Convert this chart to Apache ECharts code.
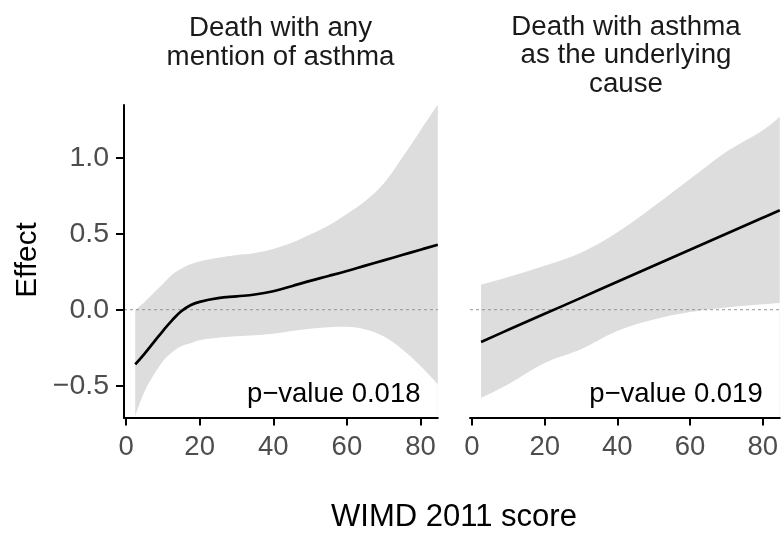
<!DOCTYPE html>
<html>
<head>
<meta charset="utf-8">
<script src="https://cdn.jsdelivr.net/npm/echarts@6/dist/echarts.min.js"></script>
<style>html,body{margin:0;padding:0;background:#fff}#c{width:781px;height:533px}</style>
</head>
<body>
<div id="c"></div>
<script>
// ---- data ----
const panelTitles = ['Death with any\nmention of asthma', 'Death with asthma\nas the underlying\ncause'];
const pValueLabels = ['p\u2212value 0.018', 'p\u2212value 0.019'];
const pValuePos = [80, -0.56];

const xTicks = [0, 20, 40, 60, 80];
const yTicks = [-0.5, 0, 0.5, 1.0];
const yTickLabels = ['\u22120.5', '0.0', '0.5', '1.0'];

// Panel 1: any mention of asthma
const anyX     = [2.5, 5, 7.5, 10, 12.5, 15, 17.5, 20, 25, 30, 35, 40, 45, 50, 55, 60, 65, 70, 75, 80, 84.7];
const anyFit   = [-0.36, -0.29, -0.215, -0.14, -0.07, -0.01, 0.03, 0.052, 0.076, 0.088, 0.10, 0.122, 0.155, 0.19, 0.222, 0.255, 0.29, 0.325, 0.36, 0.395, 0.428];
const anyUpper = [0.0, 0.05, 0.11, 0.17, 0.23, 0.27, 0.30, 0.318, 0.342, 0.36, 0.374, 0.40, 0.44, 0.495, 0.555, 0.63, 0.715, 0.83, 1.0, 1.18, 1.35];
const anyLower = [-0.70, -0.54, -0.43, -0.34, -0.28, -0.24, -0.22, -0.20, -0.185, -0.175, -0.168, -0.158, -0.14, -0.125, -0.115, -0.112, -0.13, -0.175, -0.26, -0.37, -0.49];

// Panel 2: asthma as underlying cause
const undX     = [2.5, 10, 20, 30, 40, 50, 60, 70, 80, 84.7];
const undFit   = [-0.212, -0.132, -0.027, 0.078, 0.184, 0.289, 0.394, 0.50, 0.605, 0.654];
const undUpper = [0.164, 0.215, 0.29, 0.375, 0.51, 0.68, 0.86, 1.04, 1.18, 1.27];
const undLower = [-0.58, -0.49, -0.35, -0.26, -0.14, -0.065, -0.015, 0.015, 0.036, 0.045];

// ---- layout ----
const FONT = 'Liberation Sans, Arial, Helvetica, sans-serif';
const X_MIN = -0.55, X_MAX = 84.7, Y_MIN = -0.709, Y_MAX = 1.347;
const GRID_TOP = 105, GRID_H = 312.5, GRID_W = 313.8;
const gridLefts = [124, 470];

// band = grey area under the upper bound, masked by a white area under the lower bound
function band(xs, up, lo, idx) {
  return [
    { type: 'line', xAxisIndex: idx, yAxisIndex: idx, data: xs.map((x, i) => [x, up[i]]),
      showSymbol: false, silent: true, z: 1, smooth: 0.35,
      lineStyle: { width: 0, opacity: 0 }, areaStyle: { color: '#DDDDDD', opacity: 1, origin: 'start' } },
    { type: 'line', xAxisIndex: idx, yAxisIndex: idx, data: xs.map((x, i) => [x, lo[i]]),
      showSymbol: false, silent: true, z: 1.5, smooth: 0.35,
      lineStyle: { width: 0, opacity: 0 }, areaStyle: { color: '#FFFFFF', opacity: 1, origin: 'start' } }
  ];
}
function fitLine(xs, ys, idx) {
  return {
    type: 'line', xAxisIndex: idx, yAxisIndex: idx, data: xs.map((x, i) => [x, ys[i]]),
    showSymbol: false, smooth: 0.45, silent: true, z: 4, clip: true,
    lineStyle: { color: '#000', width: 2.7 }
  };
}
function zeroLine(idx) {
  return {
    type: 'line', xAxisIndex: idx, yAxisIndex: idx, data: [[X_MIN, 0], [X_MAX, 0]],
    showSymbol: false, silent: true, z: 3,
    lineStyle: { color: '#8a8a8a', width: 0.9, type: [3, 3] }
  };
}
function pText(label, idx) {
  return {
    type: 'custom', xAxisIndex: idx, yAxisIndex: idx, data: [pValuePos], silent: true, z: 5, clip: false,
    renderItem: function (params, api) {
      const p = api.coord([api.value(0), api.value(1)]);
      return { type: 'text', x: p[0], y: p[1],
        style: { text: label, align: 'right', verticalAlign: 'middle', fontSize: 27.5, fontFamily: FONT, fill: '#000' } };
    }
  };
}

const xAxes = [0, 1].map(i => ({
  type: 'value', gridIndex: i, min: X_MIN, max: X_MAX, z: 10,
  splitLine: { show: false },
  axisLine: { show: true, onZero: false, lineStyle: { color: '#000', width: 2 } },
  axisTick: { show: true, length: 8, customValues: xTicks, lineStyle: { color: '#000', width: 2 } },
  axisLabel: { show: true, customValues: xTicks, margin: 16, fontSize: 27.5, fontFamily: FONT, color: '#4D4D4D',
    formatter: v => String(v) }
}));
const yAxes = [0, 1].map(i => ({
  type: 'value', gridIndex: i, min: Y_MIN, max: Y_MAX, z: 10,
  splitLine: { show: false },
  axisLine: { show: i === 0, onZero: false, lineStyle: { color: '#000', width: 2 } },
  axisTick: { show: i === 0, length: 8, customValues: yTicks, lineStyle: { color: '#000', width: 2 } },
  axisLabel: { show: i === 0, customValues: yTicks, margin: 15, fontSize: 28.5, fontFamily: FONT, color: '#4D4D4D',
    formatter: v => { const k = yTicks.findIndex(t => Math.abs(t - v) < 1e-6); return k >= 0 ? yTickLabels[k] : ''; } }
}));

const option = {
  animation: false,
  backgroundColor: '#fff',
  grid: gridLefts.map(l => ({ left: l, top: GRID_TOP, width: GRID_W, height: GRID_H, containLabel: false })),
  xAxis: xAxes,
  yAxis: yAxes,
  graphic: [
    { type: 'text', x: 280.5, y: 13.5, style: { text: panelTitles[0], align: 'center', verticalAlign: 'top', fontSize: 27.7, lineHeight: 29.4, fontFamily: FONT, fill: '#1A1A1A' } },
    { type: 'text', x: 626, y: 13, style: { text: panelTitles[1], align: 'center', verticalAlign: 'top', fontSize: 27.7, lineHeight: 28.4, fontFamily: FONT, fill: '#1A1A1A' } },
    { type: 'text', x: 454, y: 517, style: { text: 'WIMD 2011 score', align: 'center', verticalAlign: 'middle', fontSize: 31, fontFamily: FONT, fill: '#000' } },
    { type: 'text', x: 27.5, y: 260, rotation: Math.PI / 2, style: { text: 'Effect', align: 'center', verticalAlign: 'middle', fontSize: 29.8, fontFamily: FONT, fill: '#000' } }
  ],
  series: [].concat(
    band(anyX, anyUpper, anyLower, 0),
    [zeroLine(0), fitLine(anyX, anyFit, 0), pText(pValueLabels[0], 0)],
    band(undX, undUpper, undLower, 1),
    [zeroLine(1), fitLine(undX, undFit, 1), pText(pValueLabels[1], 1)]
  )
};
const chart = echarts.init(document.getElementById('c'), null, { renderer: 'canvas' });
chart.setOption(option);
</script>
</body>
</html>
